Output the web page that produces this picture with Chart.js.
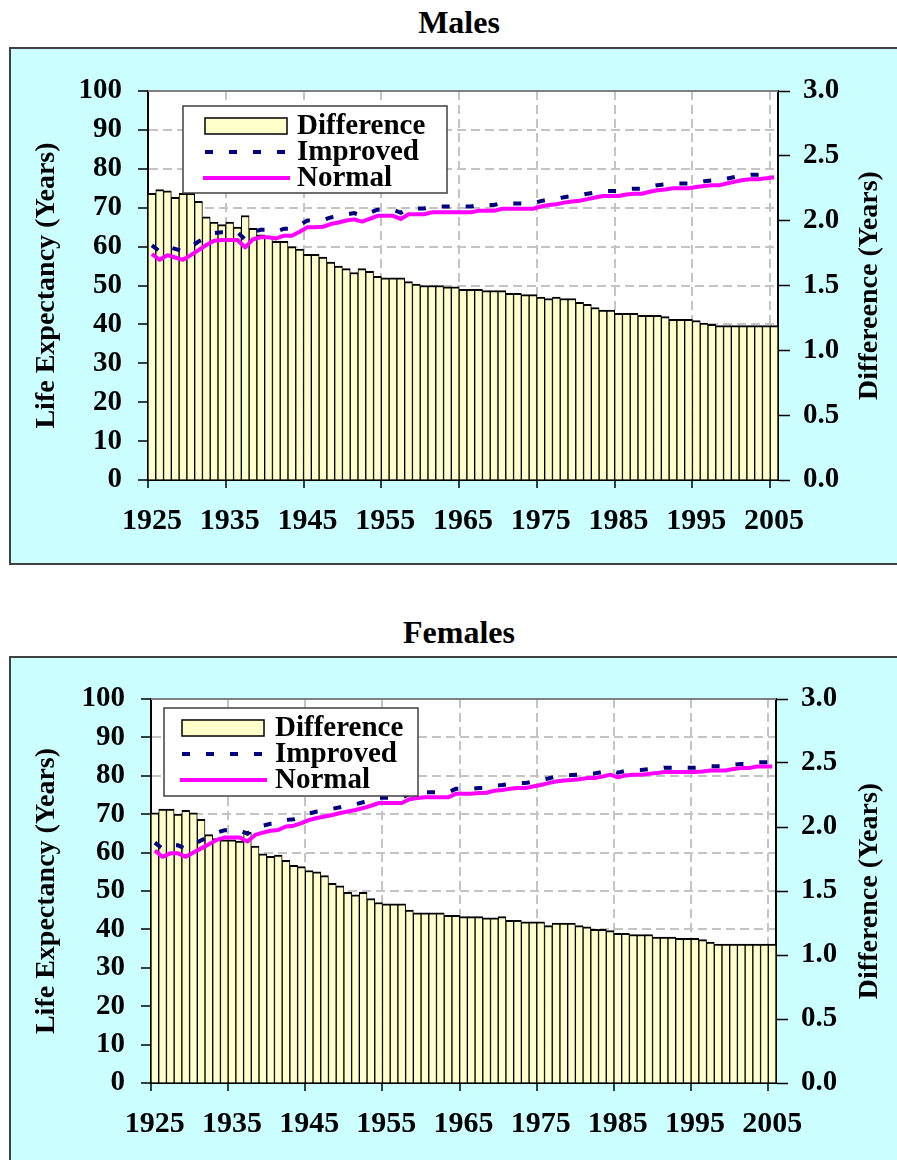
<!DOCTYPE html>
<html>
    <head>
        <script src="https://cdn.jsdelivr.net/npm/chart.js@4.4.1/dist/chart.umd.min.js"></script>
        <style>
            body { margin: 0; background: #fff; width: 897px; height: 1160px; overflow: hidden; position: relative;
                   font-family: 'Liberation Serif', 'Times New Roman', serif; }
            .title { position: absolute; left: 0; width: 918px; text-align: center; font-weight: bold; font-size: 32px; line-height: 36px; color: #000; }
            .box { position: absolute; left: 9px; width: 896px; background: #ccffff; border: 2px solid #404040; overflow: hidden; }
            canvas { display: block; }
        </style>
    </head>
    <body>
        <div class="title" style="top:4px">Males</div>
        <div class="box" style="top:47px; height:514px"><canvas id="males" width="896" height="514"></canvas></div>

        <div class="title" style="top:614px">Females</div>
        <div class="box" style="top:656px; height:510px"><canvas id="females" width="896" height="510"></canvas></div>

        <script>
            // DATA
            const years = [];
            for (let y = 1925; y <= 2005; y++) years.push(y);
            const xTickYears = [1925, 1935, 1945, 1955, 1965, 1975, 1985, 1995, 2005];

            const malesDifference = [
                2.21, 2.24, 2.23, 2.18, 2.21, 2.21, 2.15, 2.03, 1.99, 1.97,
                1.99, 1.95, 2.04, 1.94, 1.89, 1.88, 1.84, 1.84, 1.80, 1.78,
                1.74, 1.74, 1.72, 1.68, 1.65, 1.63, 1.60, 1.63, 1.61, 1.57,
                1.56, 1.56, 1.56, 1.53, 1.51, 1.50, 1.50, 1.50, 1.49, 1.49,
                1.47, 1.47, 1.47, 1.46, 1.46, 1.46, 1.44, 1.44, 1.43, 1.43,
                1.41, 1.40, 1.41, 1.40, 1.40, 1.37, 1.355, 1.33, 1.31, 1.31,
                1.285, 1.285, 1.285, 1.27, 1.27, 1.27, 1.26, 1.24, 1.24, 1.24,
                1.23, 1.21, 1.20, 1.19, 1.19, 1.19, 1.19, 1.19, 1.19, 1.19,
                1.19
            ];
            const malesNormal = [
                58.1, 56.6, 57.8, 57.2, 56.6, 57.8, 59.1, 60.4, 61.5, 61.7,
                61.7, 61.7, 59.8, 61.9, 62.4, 62.4, 62.1, 62.8, 62.8, 63.8,
                65.0, 65.0, 65.1, 65.8, 66.2, 66.7, 67.0, 66.4, 67.1, 67.9,
                67.9, 67.9, 67.1, 68.3, 68.3, 68.3, 68.8, 68.8, 68.8, 68.8,
                68.8, 68.8, 69.2, 69.2, 69.2, 69.7, 69.7, 69.7, 69.7, 69.7,
                70.3, 70.7, 70.9, 71.3, 71.6, 71.8, 72.2, 72.6, 73.0, 73.0,
                73.0, 73.4, 73.6, 73.6, 74.1, 74.5, 74.7, 75.0, 75.0, 75.0,
                75.3, 75.6, 75.8, 75.8, 76.3, 76.7, 77.1, 77.3, 77.3, 77.6,
                77.8
            ];
            const malesImproved = [
                60.3, 58.8, 60.0, 59.4, 58.8, 60.0, 61.3, 62.4, 63.5, 63.7,
                63.7, 63.7, 61.8, 63.8, 64.3, 64.3, 63.9, 64.6, 64.6, 65.6,
                66.7, 66.7, 66.8, 67.5, 67.9, 68.3, 68.6, 68.0, 68.7, 69.5,
                69.5, 69.5, 68.7, 69.8, 69.8, 69.8, 70.3, 70.3, 70.3, 70.3,
                70.3, 70.3, 70.7, 70.7, 70.7, 71.2, 71.1, 71.1, 71.1, 71.1,
                71.7, 72.1, 72.3, 72.7, 73.0, 73.2, 73.6, 73.9, 74.3, 74.3,
                74.3, 74.7, 74.9, 74.9, 75.4, 75.8, 76.0, 76.2, 76.2, 76.2,
                76.5, 76.8, 77.0, 77.0, 77.5, 77.9, 78.3, 78.5, 78.5, 78.8,
                79.0
            ];

            const femalesDifference = [
                2.11, 2.14, 2.14, 2.10, 2.13, 2.11, 2.06, 1.94, 1.91, 1.90,
                1.90, 1.89, 1.96, 1.85, 1.79, 1.77, 1.78, 1.74, 1.70, 1.69,
                1.66, 1.65, 1.62, 1.56, 1.54, 1.49, 1.47, 1.49, 1.44, 1.41,
                1.40, 1.40, 1.40, 1.35, 1.33, 1.33, 1.33, 1.33, 1.31, 1.31,
                1.30, 1.30, 1.30, 1.29, 1.29, 1.30, 1.27, 1.27, 1.26, 1.26,
                1.26, 1.23, 1.25, 1.25, 1.25, 1.23, 1.22, 1.20, 1.20, 1.19,
                1.17, 1.17, 1.16, 1.16, 1.16, 1.14, 1.14, 1.14, 1.13, 1.13,
                1.13, 1.12, 1.10, 1.085, 1.085, 1.085, 1.085, 1.085, 1.085, 1.085,
                1.085
            ];
            const femalesNormal = [
                60.5, 58.9, 59.8, 59.8, 58.9, 60.0, 61.1, 62.2, 63.3, 63.9,
                63.9, 63.9, 62.9, 64.6, 65.2, 65.7, 65.9, 66.8, 67.0, 67.7,
                68.5, 69.0, 69.4, 69.8, 70.3, 70.7, 71.1, 71.6, 72.2, 72.9,
                72.9, 72.9, 72.9, 73.9, 74.2, 74.4, 74.4, 74.4, 74.4, 75.3,
                75.3, 75.3, 75.5, 75.6, 76.1, 76.3, 76.6, 76.8, 76.8, 77.2,
                77.6, 78.1, 78.5, 78.8, 78.9, 79.1, 79.4, 79.4, 79.8, 80.3,
                79.6, 80.1, 80.3, 80.3, 80.5, 80.7, 81.0, 81.0, 81.0, 81.0,
                81.0, 81.1, 81.4, 81.4, 81.4, 81.8, 82.0, 82.0, 82.4, 82.4,
                82.4
            ];
            const femalesImproved = [
                62.6, 61.0, 61.9, 61.9, 61.0, 62.1, 63.2, 64.1, 65.2, 65.8,
                65.8, 65.8, 64.9, 66.5, 67.0, 67.5, 67.7, 68.5, 68.7, 69.4,
                70.2, 70.7, 71.0, 71.4, 71.8, 72.2, 72.6, 73.1, 73.6, 74.3,
                74.3, 74.3, 74.3, 75.3, 75.5, 75.7, 75.7, 75.7, 75.7, 76.6,
                76.6, 76.6, 76.8, 76.9, 77.4, 77.6, 77.9, 78.1, 78.1, 78.5,
                78.9, 79.3, 79.8, 80.1, 80.2, 80.3, 80.6, 80.6, 81.0, 81.5,
                80.8, 81.3, 81.5, 81.5, 81.7, 81.8, 82.1, 82.1, 82.1, 82.1,
                82.1, 82.2, 82.5, 82.5, 82.5, 82.9, 83.1, 83.1, 83.5, 83.5,
                83.5
            ];

            const FONT = "'Liberation Serif', 'Times New Roman', serif";
            const GRID = '#c4c4c4';
            const NONE = 'rgba(0,0,0,0)';

            // legend box inside the plot, right axis title (reads bottom to top)
            const framePlugin = {
                id: 'frame',
                beforeDraw(chart) {
                    const a = chart.chartArea, ctx = chart.ctx;
                    ctx.save();
                    ctx.fillStyle = '#ffffff';
                    ctx.fillRect(a.left, a.top, a.right - a.left, a.bottom - a.top);
                    ctx.restore();
                },
                afterDatasetsDraw(chart, args, opts) {
                    const a = chart.chartArea, ctx = chart.ctx;
                    ctx.save();
                    ctx.strokeStyle = '#808080';
                    ctx.lineWidth = 2;
                    ctx.beginPath();
                    ctx.moveTo(a.left, a.top);
                    ctx.lineTo(a.right, a.top);
                    ctx.stroke();

                    const lg = opts.legend;
                    const x0 = a.left + lg.dx, y0 = a.top + lg.dy;
                    ctx.fillStyle = '#fff';
                    ctx.fillRect(x0, y0, lg.w, lg.h);
                    ctx.strokeStyle = '#404040';
                    ctx.lineWidth = 1.5;
                    ctx.strokeRect(x0, y0, lg.w, lg.h);

                    const ds = chart.data.datasets;
                    const rows = [y0 + 20, y0 + 46, y0 + 72];
                    const sx = x0 + lg.sx;
                    // Difference swatch
                    ctx.fillStyle = ds[2].backgroundColor;
                    ctx.fillRect(sx, rows[0] - 8, 82, 16);
                    ctx.strokeStyle = '#000';
                    ctx.lineWidth = 1.5;
                    ctx.strokeRect(sx, rows[0] - 8, 82, 16);
                    // Improved
                    ctx.strokeStyle = ds[0].borderColor;
                    ctx.lineWidth = 4;
                    ctx.setLineDash(ds[0].borderDash);
                    ctx.beginPath();
                    ctx.moveTo(sx, rows[1]);
                    ctx.lineTo(sx + 82, rows[1]);
                    ctx.stroke();
                    ctx.setLineDash([]);
                    // Normal
                    ctx.strokeStyle = ds[1].borderColor;
                    ctx.beginPath();
                    ctx.moveTo(sx - 2, rows[2]);
                    ctx.lineTo(sx + 85, rows[2]);
                    ctx.stroke();

                    ctx.fillStyle = '#000';
                    ctx.font = 'bold 29px ' + FONT;
                    ctx.textAlign = 'left';
                    ctx.textBaseline = 'middle';
                    ctx.fillText(ds[2].label, x0 + lg.tx, rows[0] + 1);
                    ctx.fillText(ds[0].label, x0 + lg.tx, rows[1] + 1);
                    ctx.fillText(ds[1].label, x0 + lg.tx, rows[2] + 1);

                    ctx.translate(opts.rightTitleX, (a.top + a.bottom) / 2);
                    ctx.rotate(-Math.PI / 2);
                    ctx.font = 'bold 28px ' + FONT;
                    ctx.textAlign = 'center';
                    ctx.fillText(opts.rightTitle, 0, 0);
                    ctx.restore();
                }
            };

            function makeChart(id, s) {
                const canvas = document.getElementById(id);
                const W = canvas.width, H = canvas.height;
                return new Chart(canvas, {
                    type: 'bar',
                    data: {
                        labels: years,
                        datasets: [{
                            type: 'line',
                            label: 'Improved',
                            data: s.improved,
                            yAxisID: 'yL',
                            borderColor: '#000080',
                            borderWidth: 4,
                            borderDash: [8, 16],
                            pointRadius: 0,
                            order: 1
                        }, {
                            type: 'line',
                            label: 'Normal',
                            data: s.normal,
                            yAxisID: 'yL',
                            borderColor: '#ff00ff',
                            borderWidth: 4,
                            borderJoinStyle: 'round',
                            pointRadius: 0,
                            order: 2
                        }, {
                            type: 'bar',
                            label: 'Difference',
                            data: s.difference,
                            yAxisID: 'yR',
                            backgroundColor: '#ffffcc',
                            borderColor: '#000000',
                            borderWidth: {top: 2, left: 1, right: 1, bottom: 0},
                            barPercentage: 1,
                            categoryPercentage: 1,
                            order: 3
                        }]
                    },
                    options: {
                        responsive: false,
                        animation: false,
                        devicePixelRatio: 1,
                        layout: { padding: { top: s.area.t, left: 0, right: 0, bottom: 0 } },
                        plugins: {
                            legend: { display: false },
                            tooltip: { enabled: false },
                            frame: { legend: s.legend, rightTitle: s.rightTitle, rightTitleX: 859 }
                        },
                        scales: {
                            x: {
                                offset: true,
                                grid: {
                                    offset: true,
                                    color: c => c.index % 10 === 0 ? GRID : NONE,
                                    lineWidth: 2,
                                    tickLength: 8,
                                    tickColor: c => c.index % 10 === 0 ? '#000' : NONE,
                                    tickWidth: 1.5
                                },
                                border: { color: '#000', width: 2, dash: [9, 5] },
                                ticks: {
                                    autoSkip: false,
                                    maxRotation: 0,
                                    minRotation: 0,
                                    padding: 15,
                                    color: '#000',
                                    font: { family: FONT, size: 30, weight: 'bold' },
                                    callback: (v, i) => xTickYears.includes(years[i]) ? String(years[i]) : ''
                                },
                                afterFit: sc => { sc.height = H - s.area.b; }
                            },
                            yL: {
                                position: 'left',
                                min: 0,
                                max: 100,
                                grid: {
                                    color: c => (c.tick && c.tick.value % 10 === 0 && c.tick.value < 100) ? GRID : NONE,
                                    lineWidth: 2,
                                    tickLength: 10,
                                    tickColor: '#000',
                                    tickWidth: 1.5
                                },
                                border: { color: '#000', width: 2, dash: [9, 5] },
                                ticks: {
                                    stepSize: 5,
                                    padding: 16,
                                    color: '#000',
                                    font: { family: FONT, size: 29, weight: 'bold' },
                                    callback: v => v % 10 === 0 ? String(v) : ''
                                },
                                title: {
                                    display: true,
                                    text: 'Life Expectancy (Years)',
                                    color: '#000',
                                    font: { family: FONT, size: 28, weight: 'bold' },
                                    padding: { top: 19, bottom: 0 }
                                },
                                afterFit: sc => { sc.width = s.area.l; }
                            },
                            yR: {
                                position: 'right',
                                min: 0,
                                max: 3,
                                grid: {
                                    drawOnChartArea: false,
                                    tickLength: 12,
                                    tickColor: '#000',
                                    tickWidth: 1.5
                                },
                                border: { color: '#000', width: 2 },
                                ticks: {
                                    stepSize: 0.5,
                                    padding: 13,
                                    color: '#000',
                                    font: { family: FONT, size: 29, weight: 'bold' },
                                    callback: v => v.toFixed(1)
                                },
                                afterFit: sc => { sc.width = W - s.area.r; }
                            }
                        }
                    },
                    plugins: [framePlugin]
                });
            }

            // RENDER
            makeChart('males', {
                difference: malesDifference,
                normal: malesNormal,
                improved: malesImproved,
                area: { l: 137, r: 767, t: 42, b: 431 },
                legend: { dx: 35, dy: 15, w: 264, h: 87, sx: 22, tx: 114 },
                rightTitle: 'Differeence (Years)'
            });

            makeChart('females', {
                difference: femalesDifference,
                normal: femalesNormal,
                improved: femalesImproved,
                area: { l: 140, r: 765, t: 41, b: 425 },
                legend: { dx: 13, dy: 9, w: 254, h: 88, sx: 18, tx: 111 },
                rightTitle: 'Difference (Years)'
            });
        </script>
    </body>
</html>
